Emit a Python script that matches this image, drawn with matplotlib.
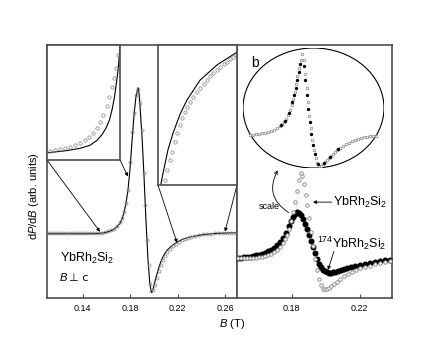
import matplotlib
matplotlib.use("Agg")
import matplotlib.pyplot as plt
from matplotlib.patches import Ellipse, FancyArrowPatch

plt.rcParams["font.family"] = ["Liberation Sans", "DejaVu Sans"]
plt.rcParams["mathtext.fontset"] = "custom"
plt.rcParams["mathtext.rm"] = "Liberation Sans"
plt.rcParams["mathtext.it"] = "Liberation Sans:italic"

FRAME = "#4d4d4d"
GREY = "#808080"

# ---------------------------------------------------------------- data
# panel a: YbRh2Si2, B perpendicular to c (fit line + measured points)
a_fit_B = [0.110, 0.130, 0.145, 0.152, 0.157, 0.161, 0.164, 0.1664, 0.1689, 0.1715,
           0.1732, 0.1748, 0.1765, 0.1782, 0.1799, 0.1816, 0.1833, 0.1849, 0.1866,
           0.1875, 0.1883, 0.1900, 0.1917, 0.1933, 0.1950, 0.1966, 0.1980, 0.1993,
           0.2009, 0.2026, 0.2043, 0.2060, 0.2077, 0.2094, 0.2110, 0.2136, 0.2161,
           0.2186, 0.2211, 0.2237, 0.2262, 0.2312, 0.2380, 0.2447, 0.2515, 0.2616, 0.270]
a_fit_y = [0.04, 0.04, 0.04, 0.05, 0.07, 0.11, 0.16, 0.22, 0.31, 0.46,
           0.62, 0.88, 1.24, 1.78, 2.60, 3.70, 4.75, 5.45, 5.81,
           5.60, 5.10, 3.90, 2.30, 0.60, -0.95, -1.95, -2.28, -2.15,
           -1.85, -1.55, -1.28, -1.05, -0.87, -0.73, -0.62, -0.50, -0.40,
           -0.32, -0.25, -0.19, -0.15, -0.08, -0.02, 0.02, 0.05, 0.07, 0.08]

a_dat_B = [0.1108, 0.1134, 0.1159, 0.1184, 0.1209, 0.1235, 0.1260, 0.1285, 0.1311,
           0.1336, 0.1361, 0.1386, 0.1412, 0.1437, 0.1462, 0.1487, 0.1513, 0.1538,
           0.1563, 0.1588, 0.1614, 0.1639, 0.1664, 0.1689, 0.1715, 0.1732, 0.1748,
           0.1765, 0.1782, 0.1799, 0.1816, 0.1833, 0.1849, 0.1866, 0.1883, 0.1900,
           0.1917, 0.1929, 0.1942, 0.1955, 0.1967, 0.1979, 0.1993, 0.2009, 0.2026,
           0.2043, 0.2060, 0.2077, 0.2094, 0.2110, 0.2136, 0.2161, 0.2186, 0.2211,
           0.2237, 0.2262, 0.2287, 0.2312, 0.2346, 0.2380, 0.2414, 0.2447, 0.2481,
           0.2515, 0.2548, 0.2582, 0.2616, 0.2649, 0.2683]
a_dat_y = [0.05, 0.05, 0.05, 0.05, 0.05, 0.05, 0.05, 0.05, 0.05,
           0.05, 0.05, 0.05, 0.05, 0.05, 0.05, 0.05, 0.05, 0.06,
           0.08, 0.10, 0.14, 0.18, 0.24, 0.34, 0.49, 0.65, 0.91,
           1.26, 1.78, 2.89, 4.07, 4.82, 5.53, 5.77, 5.22, 4.15,
           2.45, 1.19, -0.20, -1.19, -1.94, -2.21, -2.19, -1.98, -1.70,
           -1.42, -1.19, -0.99, -0.83, -0.69, -0.55, -0.45, -0.36, -0.28,
           -0.22, -0.16, -0.12, -0.08, -0.04, -0.01, 0.01, 0.02, 0.04,
           0.05, 0.06, 0.06, 0.07, 0.08, 0.08]

# panel a, left inset (low-field wing)
al_fit_B = [0.1550, 0.1607, 0.1649, 0.1680, 0.1701, 0.1717, 0.1730, 0.1741, 0.1749,
            0.1756, 0.1762, 0.1768, 0.1772, 0.1774]
al_fit_y = [0.102, 0.130, 0.162, 0.204, 0.269, 0.348, 0.441, 0.557, 0.696,
            0.858, 1.043, 1.252, 1.461, 1.576]
al_dat_B = [0.1555, 0.1571, 0.1587, 0.1602, 0.1618, 0.1633, 0.1649, 0.1665, 0.1678,
            0.1691, 0.1701, 0.1712, 0.1722, 0.1732, 0.1741, 0.1748, 0.1755, 0.1761, 0.1769]
al_dat_y = [0.130, 0.139, 0.153, 0.172, 0.186, 0.209, 0.241, 0.278, 0.325,
            0.380, 0.450, 0.533, 0.626, 0.751, 0.881, 1.011, 1.136, 1.275, 1.461]

# panel a, right inset (high-field wing)
ar_fit_B = [0.2210, 0.2221, 0.2246, 0.2272, 0.2308, 0.2343, 0.2410, 0.2497, 0.2599]
ar_fit_y = [-0.347, -0.311, -0.237, -0.183, -0.122, -0.077, -0.013, 0.036, 0.077]
ar_dat_B = [0.2231, 0.2241, 0.2256, 0.2267, 0.2282, 0.2292, 0.2308, 0.2318, 0.2333,
            0.2343, 0.2359, 0.2374, 0.2394, 0.2410, 0.2430, 0.2446, 0.2461, 0.2476,
            0.2497, 0.2512, 0.2532, 0.2548, 0.2563, 0.2579, 0.2594]
ar_dat_y = [-0.334, -0.302, -0.270, -0.244, -0.212, -0.183, -0.157, -0.135, -0.115,
            -0.099, -0.083, -0.067, -0.051, -0.038, -0.025, -0.013, 0.000, 0.010,
            0.020, 0.029, 0.039, 0.045, 0.055, 0.061, 0.068]

# panel b: YbRh2Si2 (open) and 174YbRh2Si2 (filled)
b_nat_B = [0.1486, 0.1503, 0.1521, 0.1539, 0.1556, 0.1574, 0.1592, 0.1609, 0.1627,
           0.1644, 0.1662, 0.1680, 0.1697, 0.1715, 0.1732, 0.1750, 0.1762, 0.1774,
           0.1785, 0.1797, 0.1809, 0.1820, 0.1832, 0.1844, 0.1856, 0.1862, 0.1873,
           0.1885, 0.1891, 0.1903, 0.1914, 0.1926, 0.1938, 0.1950, 0.1961, 0.1973,
           0.1985, 0.1997, 0.2008, 0.2020, 0.2032, 0.2049, 0.2067, 0.2085, 0.2108,
           0.2132, 0.2155, 0.2179, 0.2202, 0.2231, 0.2261, 0.2290, 0.2319, 0.2349, 0.2378]
b_nat_y = [-0.04, -0.04, -0.04, -0.04, -0.04, -0.02, -0.02, 0.00, 0.02,
           0.04, 0.08, 0.12, 0.20, 0.28, 0.40, 0.55, 0.71, 0.87,
           1.11, 1.42, 1.78, 2.17, 2.61, 3.04, 3.32, 3.20, 2.89,
           2.45, 2.06, 1.54, 0.99, 0.43, -0.08, -0.51, -0.87, -1.11,
           -1.26, -1.28, -1.26, -1.21, -1.15, -1.07, -0.97, -0.87, -0.77,
           -0.67, -0.59, -0.51, -0.45, -0.40, -0.34, -0.28, -0.24, -0.20, -0.16]

b_174_B = [0.1486, 0.1503, 0.1521, 0.1539, 0.1556, 0.1574, 0.1592, 0.1609, 0.1627,
           0.1644, 0.1662, 0.1680, 0.1697, 0.1715, 0.1732, 0.1750, 0.1768, 0.1785,
           0.1797, 0.1809, 0.1820, 0.1832, 0.1844, 0.1856, 0.1867, 0.1879, 0.1891,
           0.1903, 0.1914, 0.1926, 0.1938, 0.1950, 0.1961, 0.1973, 0.1985, 0.1997,
           0.2008, 0.2020, 0.2032, 0.2044, 0.2055, 0.2073, 0.2091, 0.2108, 0.2126,
           0.2149, 0.2173, 0.2202, 0.2231, 0.2261, 0.2290, 0.2319, 0.2349, 0.2378]
b_174_y = [-0.04, -0.02, 0.00, 0.00, 0.02, 0.04, 0.06, 0.08, 0.12,
           0.16, 0.22, 0.28, 0.36, 0.47, 0.59, 0.75, 0.95, 1.23,
           1.42, 1.58, 1.70, 1.76, 1.74, 1.66, 1.50, 1.30, 1.11,
           0.87, 0.63, 0.40, 0.16, -0.08, -0.26, -0.40, -0.51, -0.57,
           -0.61, -0.63, -0.63, -0.61, -0.59, -0.55, -0.51, -0.47, -0.43,
           -0.40, -0.36, -0.32, -0.28, -0.24, -0.20, -0.16, -0.12, -0.10]

# panel b, oval inset: both samples after scaling
e_nat_B = [0.1497, 0.1517, 0.1538, 0.1558, 0.1578, 0.1598, 0.1619, 0.1639, 0.1659,
           0.1679, 0.1699, 0.1713, 0.1726, 0.1740, 0.1753, 0.1767, 0.1777, 0.1787,
           0.1797, 0.1807, 0.1817, 0.1827, 0.1838, 0.1848, 0.1858, 0.1868, 0.1878,
           0.1888, 0.1898, 0.1908, 0.1918, 0.1929, 0.1939, 0.1949, 0.1962, 0.1976,
           0.1989, 0.2003, 0.2016, 0.2030, 0.2043, 0.2057, 0.2070, 0.2084, 0.2104,
           0.2124, 0.2144, 0.2164, 0.2185, 0.2205, 0.2225, 0.2245, 0.2266, 0.2286,
           0.2306, 0.2326, 0.2346]
e_nat_y = [0.175, 0.175, 0.196, 0.217, 0.238, 0.258, 0.300, 0.342, 0.404,
           0.467, 0.550, 0.633, 0.717, 0.842, 1.008, 1.217, 1.425, 1.675,
           1.967, 2.300, 2.633, 2.967, 3.300, 3.550, 3.300, 2.717, 2.133,
           1.550, 0.967, 0.467, -0.033, -0.450, -0.783, -0.992, -1.096, -1.096,
           -1.033, -0.950, -0.867, -0.783, -0.700, -0.617, -0.533, -0.450, -0.367,
           -0.283, -0.200, -0.138, -0.075, -0.033, 0.008, 0.050, 0.071, 0.092,
           0.113, 0.133, 0.154]
e_174_B = [0.1706, 0.1733, 0.1760, 0.1780, 0.1794, 0.1804, 0.1814, 0.1824, 0.1834,
           0.1861, 0.1871, 0.1881, 0.1891, 0.1901, 0.1911, 0.1922, 0.1932, 0.1956,
           0.1996, 0.2037, 0.2091]
e_174_y = [0.592, 0.779, 1.092, 1.550, 1.842, 2.133, 2.467, 2.800, 3.133,
           3.050, 2.467, 1.842, 1.258, 0.717, 0.217, -0.242, -0.617, -1.054,
           -0.992, -0.742, -0.429]

a_ticks = [0.14, 0.18, 0.22, 0.26]
b_ticks = [0.18, 0.22]

# ---------------------------------------------------------------- layout
W, H = 436, 357
fig = plt.figure(figsize=(W / 100, H / 100), dpi=100)


def px_axes(x0, y0, x1, y1):
    return fig.add_axes([x0 / W, 1 - y1 / H, (x1 - x0) / W, (y1 - y0) / H])


def frame(ax, lw=1.2):
    for s in ax.spines.values():
        s.set_color(FRAME)
        s.set_linewidth(lw)


ax_a = px_axes(47, 45, 237, 298)
ax_b = px_axes(237, 45, 392, 298)
ins_l = px_axes(47, 45, 120, 160)
ins_r = px_axes(158, 45, 237, 185)
ins_b = px_axes(243, 48, 384, 168)

open_kw = dict(ls="none", marker="o", mfc="none", mec=GREY, mew=0.5)

# panel a
ax_a.plot(a_fit_B, a_fit_y, color="k", lw=0.8, zorder=2)
ax_a.plot(a_dat_B, a_dat_y, ms=2.2, zorder=3, **open_kw)
ax_a.set_xlim(0.11, 0.27)
ax_a.set_ylim(-2.5, 7.5)
ax_a.set_xticks(a_ticks)
ax_a.set_xticklabels([f"{t:.2f}" for t in a_ticks])
ax_a.set_yticks([])
ax_a.tick_params(axis="x", direction="in", length=3, width=0.8, labelsize=6.5, pad=4,
                 color=FRAME)
frame(ax_a)
ax_a.text(0.058, 0.93, "a", transform=ax_a.transAxes, fontsize=10, va="center")
ax_a.text(0.068, 0.158, r"YbRh$_2$Si$_2$", transform=ax_a.transAxes, fontsize=9,
          va="center")
ax_a.text(0.068, 0.079, "B", transform=ax_a.transAxes, fontsize=8, style="italic",
          va="center")
ax_a.text(0.115, 0.079, "\u22a5 c", transform=ax_a.transAxes, fontsize=8,
          va="center", family=["DejaVu Sans"])

for ins, xb, yb, fb, fy, xl, yl in [
        (ins_l, al_dat_B, al_dat_y, al_fit_B, al_fit_y, (0.1546, 0.1774), (0.0, 1.6)),
        (ins_r, ar_dat_B, ar_dat_y, ar_fit_B, ar_fit_y, (0.2195, 0.2599), (-0.35, 0.10))]:
    ins.plot(fb, fy, color="k", lw=0.8)
    ins.plot(xb, yb, ms=2.4, **open_kw)
    ins.set_xlim(*xl)
    ins.set_ylim(*yl)
    ins.set_xticks([])
    ins.set_yticks([])
    frame(ins)

arrow_kw = dict(arrowstyle="-|>", color="k", lw=0.6, mutation_scale=5,
                shrinkA=0, shrinkB=0)
for ins, corner, target in [(ins_l, (0, 0), (0.1546, 0.12)),
                            (ins_l, (1, 0), (0.1782, 2.30)),
                            (ins_r, (0, 0), (0.2195, -0.32)),
                            (ins_r, (1, 0), (0.2599, 0.12))]:
    ax_a.annotate("", xy=target, xytext=corner, textcoords=ins.transAxes,
                  arrowprops=arrow_kw, annotation_clip=False)

# panel b
ax_b.plot(b_174_B, b_174_y, ls="none", marker="o", ms=3.3, color="k", zorder=2)
ax_b.plot(b_nat_B, b_nat_y, ls="none", marker="o", ms=2.5, mfc="white", mec=GREY,
          mew=0.6, zorder=3)
ax_b.set_xlim(0.148, 0.239)
ax_b.set_ylim(-1.62, 8.38)
ax_b.set_xticks(b_ticks)
ax_b.set_xticklabels([f"{t:.2f}" for t in b_ticks])
ax_b.set_yticks([])
ax_b.tick_params(axis="x", direction="in", length=3, width=0.8, labelsize=6.5, pad=4,
                 color=FRAME)
frame(ax_b)
ax_b.text(0.09, 0.93, "b", transform=ax_b.transAxes, fontsize=10, va="center")
ax_b.text(0.2044, 2.17, r"YbRh$_2$Si$_2$", fontsize=9, va="center")
ax_b.annotate("", xy=(0.1926, 2.17), xytext=(0.2036, 2.17),
              arrowprops=dict(arrowstyle="-|>", color="k", lw=0.6, mutation_scale=5,
                              shrinkA=0, shrinkB=0))
ax_b.text(0.1950, 0.55, r"$^{174}$YbRh$_2$Si$_2$", fontsize=9, va="center")
ax_b.annotate("", xy=(0.2014, -0.51), xytext=(0.2049, 0.22),
              arrowprops=dict(arrowstyle="-|>", color="k", lw=0.6, mutation_scale=5,
                              shrinkA=0, shrinkB=0))
ax_b.text(0.1610, 2.00, "scale", fontsize=6.5, va="center")
ax_b.add_patch(FancyArrowPatch((0.1797, 1.70), (0.1727, 3.52),
                               connectionstyle="arc3,rad=-0.5", arrowstyle="->",
                               mutation_scale=6, lw=0.6, color="k", zorder=4))

# oval inset
ins_b.patch.set_visible(False)
ins_b.axis("off")
ins_b.add_patch(Ellipse((0.5, 0.5), 1.0, 1.0, transform=ins_b.transAxes,
                        facecolor="white", edgecolor="k", lw=0.8, zorder=0))
ins_b.plot(e_nat_B, e_nat_y, ls="none", marker="o", ms=1.9, mfc="white", mec=GREY,
           mew=0.5, zorder=2)
ins_b.plot(e_174_B, e_174_y, ls="none", marker="o", ms=1.4, color="k", zorder=3)
ins_b.set_xlim(0.145, 0.240)
ins_b.set_ylim(-1.2, 3.8)

fig.text(34 / W, 1 - 196 / H, "d$\\it{P}$/d$\\it{B}$ (arb. units)", rotation=90,
         fontsize=8, ha="center", va="center")
fig.text(232 / W, 1 - 324 / H, "$\\it{B}$ (T)", fontsize=8, ha="center", va="center")

fig.savefig("out.png", dpi=100)
